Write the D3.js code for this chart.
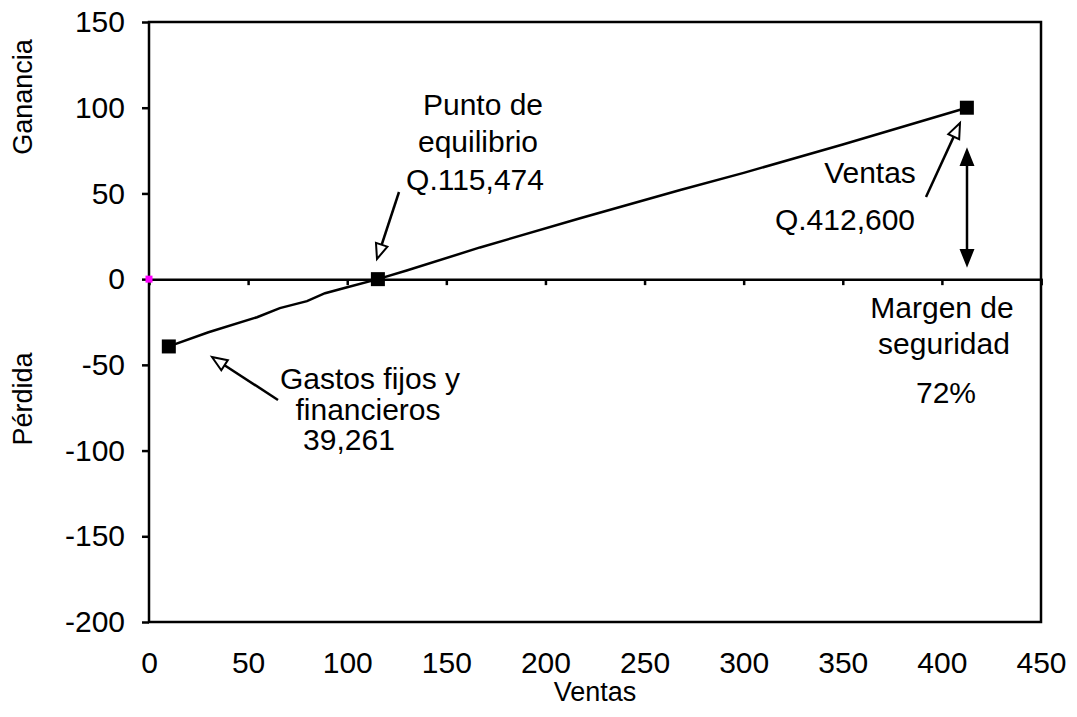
<!DOCTYPE html>
<html>
<head>
<meta charset="utf-8">
<script src="https://cdn.jsdelivr.net/npm/d3@7"></script>
<style>
  body { margin: 0; background: #fff; }
  text { font-family: "Liberation Sans", Arial, sans-serif; fill: #000; }
</style>
</head>
<body>
<div id="chart"></div>
<script>
// ventas (miles de Q) vs ganancia (miles de Q)
const ventas   = [10, 30, 54.5, 66, 79.7, 88.8, 100, 115.474, 130, 167, 217.5, 268, 300, 350, 412.6]
const ganancia = [-39.261, -31, -22.2, -16.9, -12.8, -8.2, -4.7, 0, 5, 18.5, 35.5, 52, 62, 78.5, 100]
const puntos = [
    { x: 10, y: -39.261 },
    { x: 115.474, y: 0 },
    { x: 412.6, y: 100 }
]
const xTicks = [0, 50, 100, 150, 200, 250, 300, 350, 400, 450]
const yTicks = [150, 100, 50, 0, -50, -100, -150, -200]

const width = 1077
const height = 717
const margin = { top: 22, right: 36, bottom: 95, left: 149 }

const svg = d3.select('#chart')
    .append('svg')
    .attr('width', width)
    .attr('height', height)

const x = d3.scaleLinear().domain([0, 450]).range([margin.left, width - margin.right])
const y = d3.scaleLinear().domain([-200, 150]).range([height - margin.bottom, margin.top])

// marco del area de trazado
svg.append('rect')
    .attr('x', x(0))
    .attr('y', y(150))
    .attr('width', x(450) - x(0))
    .attr('height', y(-200) - y(150))
    .attr('fill', 'none')
    .attr('stroke', '#000')
    .attr('stroke-width', 2.5)

// eje Y
const yAxis = svg.append('g')
    .attr('transform', `translate(${x(0)},0)`)
    .call(d3.axisLeft(y).tickValues(yTicks).tickSize(7).tickPadding(17).tickFormat(d => String(d)))
yAxis.select('.domain').remove()
yAxis.selectAll('line').attr('stroke-width', 2.5)
yAxis.selectAll('text').style('font-size', '30px').attr('font-family', null)

// eje X en cero (solo marcas)
const xZero = svg.append('g')
    .attr('transform', `translate(0,${y(0)})`)
    .call(d3.axisBottom(x).tickValues(xTicks.slice(1)).tickSize(6).tickFormat(''))
xZero.select('.domain').attr('stroke-width', 2.5)
xZero.selectAll('line').attr('stroke-width', 2.5)

// etiquetas del eje X abajo
const xAxis = svg.append('g')
    .attr('transform', `translate(0,${y(-200)})`)
    .call(d3.axisBottom(x).tickValues(xTicks).tickSize(0).tickPadding(30).tickFormat(d => String(d)))
xAxis.select('.domain').remove()
xAxis.selectAll('text').style('font-size', '30px').attr('font-family', null)

// titulos de ejes
svg.append('text')
    .attr('x', (x(0) + x(450)) / 2)
    .attr('y', 701)
    .attr('text-anchor', 'middle')
    .style('font-size', '27px')
    .text('Ventas')

svg.append('text')
    .attr('transform', 'translate(32,97) rotate(-90)')
    .attr('text-anchor', 'middle')
    .style('font-size', '27px')
    .text('Ganancia')

svg.append('text')
    .attr('transform', 'translate(32,399) rotate(-90)')
    .attr('text-anchor', 'middle')
    .style('font-size', '27px')
    .text('Pérdida')

// linea de ganancia
const line = d3.line()
    .x(d => x(d[0]))
    .y(d => y(d[1]))

svg.append('path')
    .datum(d3.zip(ventas, ganancia))
    .attr('fill', 'none')
    .attr('stroke', '#000')
    .attr('stroke-width', 2.5)
    .attr('d', line)

svg.selectAll('.punto')
    .data(puntos)
    .enter().append('rect')
    .attr('class', 'punto')
    .attr('x', d => x(d.x) - 7)
    .attr('y', d => y(d.y) - 7)
    .attr('width', 14)
    .attr('height', 14)
    .attr('fill', '#000')

// punto magenta en el origen
svg.append('rect')
    .attr('x', x(0) - 3.5)
    .attr('y', y(0) - 3.5)
    .attr('width', 7)
    .attr('height', 7)
    .attr('fill', '#ff00ff')

// flechas
function arrow(x1, y1, x2, y2, open) {
    const ang = Math.atan2(y2 - y1, x2 - x1)
    const len = 15, half = 6
    const bx = x2 - len * Math.cos(ang), by = y2 - len * Math.sin(ang)
    const px = -Math.sin(ang) * half, py = Math.cos(ang) * half
    svg.append('line')
        .attr('x1', x1).attr('y1', y1)
        .attr('x2', bx).attr('y2', by)
        .attr('stroke', '#000')
        .attr('stroke-width', 2.5)
    svg.append('path')
        .attr('d', `M${x2},${y2}L${bx + px},${by + py}L${bx - px},${by - py}Z`)
        .attr('fill', open ? '#fff' : '#000')
        .attr('stroke', '#000')
        .attr('stroke-width', 2)
}

arrow(399, 192, 377, 259, true)
arrow(926, 197, 960, 123, true)
arrow(278, 400, 212, 357, true)
arrow(967, 208, 967, 150, false)
arrow(967, 208, 967, 265, false)

// anotaciones
const notas = [
    { t: 'Punto de', x: 483, y: 115 },
    { t: 'equilibrio', x: 478, y: 152 },
    { t: 'Q.115,474', x: 475, y: 190 },
    { t: 'Ventas', x: 870, y: 183 },
    { t: 'Q.412,600', x: 845, y: 230 },
    { t: 'Margen de', x: 942, y: 318 },
    { t: 'seguridad', x: 944, y: 354 },
    { t: '72%', x: 946, y: 403 },
    { t: 'Gastos fijos y', x: 370, y: 389 },
    { t: 'financieros', x: 368, y: 420 },
    { t: '39,261', x: 349, y: 450 }
]

svg.selectAll('.nota')
    .data(notas)
    .enter().append('text')
    .attr('class', 'nota')
    .attr('x', d => d.x)
    .attr('y', d => d.y)
    .attr('text-anchor', 'middle')
    .style('font-size', '30px')
    .text(d => d.t)
</script>
</body>
</html>
